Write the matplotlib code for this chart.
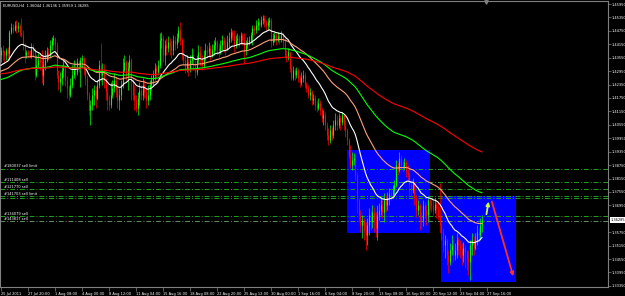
import numpy as np
import matplotlib
matplotlib.use("Agg")
import matplotlib.pyplot as plt
import matplotlib.patches as patches

# EURUSD H4, prices in pips (1/10000)
closes = [
    14389, 14381, 14367, 14389, 14376, 14470, 14492, 14479, 14501, 14488, 14497, 14465, 14457, 14412, 14367, 14381,
    14372, 14363, 14398, 14389, 14278, 14322, 14345, 14336, 14278, 14322, 14345, 14381, 14367, 14412, 14434, 14443,
    14412, 14278, 14246, 14264, 14300, 14309, 14255, 14220, 14188, 14233, 14278, 14300, 14291, 14336, 14309, 14345,
    14354, 14300, 14264, 14188, 14121, 14144, 14188, 14211, 14175, 14233, 14322, 14278, 14300, 14255, 14202, 14166,
    14144, 14188, 14220, 14255, 14211, 14166, 14188, 14233, 14300, 14336, 14278, 14309, 14345, 14255, 14188, 14166,
    14130, 14175, 14211, 14188, 14233, 14202, 14166, 14188, 14233, 14255, 14278, 14309, 14291, 14322, 14434, 14443,
    14367, 14412, 14398, 14425, 14412, 14389, 14434, 14416, 14443, 14479, 14434, 14367, 14345, 14309, 14336, 14300,
    14345, 14367, 14322, 14291, 14345, 14381, 14354, 14322, 14367, 14389, 14381, 14398, 14367, 14389, 14412, 14425,
    14398, 14381, 14412, 14434, 14416, 14389, 14425, 14443, 14470, 14452, 14412, 14434, 14443, 14425, 14457, 14434,
    14389, 14412, 14425, 14434, 14457, 14488, 14479, 14501, 14515, 14501, 14524, 14532, 14515, 14501, 14515, 14524,
    14425, 14443, 14457, 14434, 14452, 14443, 14457, 14425, 14367, 14354, 14381, 14309, 14264, 14300, 14278, 14300,
    14264, 14246, 14264, 14278, 14238, 14220, 14188, 14202, 14166, 14175, 14144, 14130, 14153, 14121, 14086, 14099,
    14054, 14010, 13987, 14032, 14010, 14054, 14077, 14054, 14086, 14068, 14099, 14054, 14032, 13987, 13920, 13875,
    13898, 13907, 13831, 13719, 13652, 13607, 13630, 13585, 13563, 13607, 13652, 13621, 13665, 13630, 13594, 13652,
    13674, 13697, 13665, 13719, 13697, 13728, 13750, 13741, 13764, 13786, 13875, 13853, 13907, 13875, 13862, 13889,
    13844, 13831, 13786, 13764, 13799, 13728, 13674, 13697, 13639, 13630, 13697, 13674, 13652, 13719, 13706, 13697,
    13674, 13701, 13683, 13652, 13607, 13576, 13518, 13540, 13473, 13442, 13495, 13518, 13473, 13495, 13540, 13518,
    13495, 13473, 13504, 13487, 13460, 13442, 13518, 13540, 13504, 13540, 13576, 13563, 13607, 13630,
]
highs = [
    14403, 14412, 14389, 14398, 14403, 14479, 14510, 14506, 14519, 14524, 14515, 14506, 14532, 14479, 14421, 14389,
    14389, 14389, 14421, 14416, 14398, 14367, 14376, 14367, 14389, 14367, 14389, 14403, 14398, 14434, 14448, 14457,
    14448, 14425, 14300, 14291, 14322, 14345, 14318, 14273, 14233, 14264, 14322, 14345, 14336, 14354, 14345, 14358,
    14367, 14358, 14309, 14278, 14202, 14166, 14220, 14233, 14229, 14255, 14345, 14421, 14331, 14327, 14264, 14220,
    14188, 14246, 14255, 14287, 14269, 14233, 14220, 14255, 14354, 14367, 14345, 14336, 14367, 14354, 14264, 14233,
    14188, 14202, 14246, 14233, 14264, 14255, 14220, 14233, 14255, 14278, 14300, 14331, 14322, 14345, 14465, 14470,
    14457, 14434, 14443, 14452, 14443, 14434, 14457, 14452, 14465, 14497, 14515, 14443, 14389, 14367, 14367, 14354,
    14367, 14398, 14389, 14345, 14367, 14412, 14407, 14367, 14389, 14421, 14412, 14425, 14412, 14416, 14434, 14448,
    14434, 14421, 14434, 14457, 14448, 14434, 14457, 14470, 14488, 14479, 14479, 14457, 14465, 14457, 14470, 14465,
    14465, 14434, 14448, 14452, 14470, 14501, 14501, 14524, 14532, 14524, 14541, 14546, 14546, 14524, 14532, 14537,
    14532, 14465, 14470, 14465, 14470, 14461, 14474, 14465, 14443, 14389, 14398, 14381, 14322, 14318, 14309, 14314,
    14309, 14278, 14291, 14300, 14291, 14246, 14233, 14220, 14211, 14193, 14188, 14166, 14175, 14166, 14130, 14121,
    14112, 14068, 14041, 14054, 14045, 14077, 14108, 14099, 14108, 14099, 14112, 14103, 14077, 14041, 13996, 13965,
    13934, 13929, 13920, 13844, 13728, 13674, 13652, 13639, 13621, 13639, 13683, 13674, 13697, 13688, 13665, 13697,
    13706, 13728, 13719, 13750, 13741, 13755, 13773, 13773, 13786, 13808, 13898, 13889, 13934, 13920, 13898, 13907,
    13898, 13875, 13844, 13808, 13817, 13795, 13741, 13719, 13706, 13665, 13719, 13710, 13697, 13728, 13728, 13719,
    13719, 13728, 13710, 13706, 13795, 13621, 13594, 13563, 13549, 13495, 13527, 13563, 13540, 13527, 13571, 13554,
    13540, 13527, 13531, 13518, 13495, 13495, 13540, 13571, 13558, 13571, 13607, 13594, 13639, 13652,
]
lows = [
    14336, 14345, 14331, 14345, 14354, 14345, 14461, 14465, 14474, 14465, 14470, 14452, 14448, 14389, 14331, 14354,
    14358, 14354, 14354, 14358, 14255, 14269, 14314, 14300, 14242, 14233, 14300, 14336, 14345, 14354, 14389, 14412,
    14389, 14264, 14211, 14202, 14233, 14269, 14229, 14175, 14166, 14179, 14220, 14264, 14255, 14278, 14291, 14224,
    14318, 14278, 14233, 14166, 14099, 14054, 14121, 14144, 14130, 14166, 14220, 14246, 14233, 14220, 14166, 14121,
    14121, 14130, 14175, 14202, 14179, 14130, 14121, 14166, 14220, 14291, 14255, 14211, 14287, 14166, 14166, 14121,
    14112, 14099, 14144, 14166, 14166, 14175, 14130, 14144, 14166, 14211, 14233, 14255, 14264, 14278, 14309, 14398,
    14336, 14322, 14367, 14381, 14367, 14354, 14367, 14389, 14398, 14425, 14412, 14345, 14322, 14287, 14291, 14273,
    14291, 14327, 14300, 14264, 14278, 14331, 14318, 14300, 14309, 14345, 14354, 14363, 14345, 14358, 14367, 14389,
    14367, 14358, 14372, 14389, 14381, 14367, 14389, 14403, 14425, 14434, 14381, 14398, 14412, 14403, 14416, 14412,
    14331, 14367, 14398, 14412, 14421, 14412, 14457, 14465, 14479, 14479, 14492, 14506, 14492, 14479, 14479, 14492,
    14403, 14412, 14425, 14412, 14425, 14416, 14425, 14398, 14354, 14336, 14345, 14291, 14255, 14255, 14255, 14264,
    14246, 14224, 14233, 14246, 14220, 14202, 14175, 14166, 14144, 14148, 14121, 14112, 14121, 14099, 14068, 14054,
    14032, 13987, 13965, 13974, 13987, 13996, 14032, 14032, 14041, 14032, 14054, 14032, 14001, 13965, 13907, 13862,
    13853, 13875, 13808, 13661, 13621, 13576, 13549, 13540, 13495, 13518, 13563, 13585, 13594, 13576, 13554, 13540,
    13630, 13652, 13639, 13621, 13665, 13674, 13697, 13719, 13728, 13741, 13777, 13831, 13844, 13853, 13844, 13853,
    13822, 13808, 13741, 13732, 13750, 13697, 13643, 13652, 13585, 13594, 13603, 13639, 13607, 13621, 13674, 13665,
    13652, 13661, 13639, 13630, 13571, 13540, 13487, 13460, 13428, 13393, 13428, 13473, 13442, 13451, 13460, 13473,
    13460, 13428, 13442, 13415, 13406, 13384, 13361, 13473, 13473, 13495, 13518, 13531, 13540, 13576,
]
first_open = 14367

# moving averages: period, value at the left edge (pips), colour
ma_periods = [21, 50, 100, 200]
ma_start = [14314, 14291, 14255, 14282]
ma_colors = ['white', '#ffa07a', '#00ff00', '#ff0000']

# order lines
order_ids = ['#180037', '#111408', '#121770', '#141703', '', '#134079', '#143817']
order_types = ['sell limit', 'sell', 'sell', 'sell limit', '', 'sell', 'sell']
order_prices = [13858, 13799, 13768, 13737, 13728, 13647, 13625]

# boxes drawn on chart: bar from, bar to, price low, price high
boxes = [(205.0, 254.2, 13571, 13942), (260.7, 305.2, 13353, 13737)]

# arrows: (bar, price) start -> end
up_arrow = [(287.4, 13643), (289.2, 13724)]
down_arrow = [(290.4, 13724), (304.0, 13366)]

tick_labels = ['25 Jul 2011', '27 Jul 20:00', '1 Aug 08:00', '4 Aug 00:00', '8 Aug 12:00',
               '11 Aug 04:00', '15 Aug 16:00', '18 Aug 08:00', '22 Aug 20:00', '25 Aug 12:00',
               '30 Aug 00:00', '1 Sep 16:00', '6 Sep 04:00', '8 Sep 20:00', '13 Sep 08:00',
               '16 Sep 00:00', '20 Sep 12:00', '23 Sep 04:00', '27 Sep 16:00']
header = 'EURUSD,H4  1.36044 1.36136 1.35959 1.36285'
last_price = 1.36285


def ema(values, period, start):
    k = 2.0 / (period + 1)
    out = []
    prev = start
    for v in values:
        prev = prev + k * (v - prev)
        out.append(prev)
    return np.array(out)


close = np.array(closes) / 1e4
high = np.array(highs) / 1e4
low = np.array(lows) / 1e4
opn = np.concatenate([[first_open / 1e4], close[:-1]])
n = len(close)
x = np.arange(n)

FONT = 'DejaVu Sans'
FS = 2.9
GRID = '#808080'
txt = dict(family=FONT, stretch='condensed', fontsize=FS)

fig = plt.figure(figsize=(6.25, 2.96), dpi=100, facecolor='black')
ax = fig.add_axes([0, 9 / 296, 608 / 625, 286 / 296])
ax.set_facecolor('black')

# pixel grid of the terminal: 1.6875 px per bar, 4.47 pips per px
ax.set_xlim(-0.593, 359.7)
ax.set_ylim(1.3330, 1.46085)

# background boxes
for b0, b1, p0, p1 in boxes:
    ax.add_patch(patches.Rectangle((b0, p0 / 1e4), b1 - b0, (p1 - p0) / 1e4,
                                   facecolor='#0000ff', edgecolor='none', zorder=1))

# order lines
for i, p in enumerate(order_prices):
    col = '#1f9f1f' if i < len(order_prices) - 1 else '#5f8f5f'
    ax.axhline(p / 1e4, color=col, lw=0.7, linestyle=(0, (5, 2, 1, 2)), zorder=2)
    if order_ids[i]:
        ax.text(2.0, p / 1e4 + 0.0002, f'{order_ids[i]} {order_types[i]}', color='white',
                ha='left', va='bottom', zorder=5, **txt)

# candles
up = close >= opn
colors = np.where(up, '#00ff00', '#ff0000')
lo = np.minimum(low, np.minimum(opn, close))
hi = np.maximum(high, np.maximum(opn, close))
ax.vlines(x, lo, hi, colors=colors, lw=0.5, zorder=3)
ax.vlines(x, np.minimum(opn, close), np.maximum(opn, close), colors=colors, lw=0.8, zorder=3)

# moving averages
for period, start, col in zip(ma_periods, ma_start, ma_colors):
    ax.plot(x, ema(closes, period, start) / 1e4, color=col, lw=0.8, zorder=4)

# trade arrows
ax.annotate('', xy=(up_arrow[1][0], up_arrow[1][1] / 1e4), xytext=(up_arrow[0][0], up_arrow[0][1] / 1e4),
            arrowprops=dict(arrowstyle='-|>', color='#c8ff32', lw=1.3, mutation_scale=5), zorder=6)
ax.annotate('', xy=(down_arrow[1][0], down_arrow[1][1] / 1e4), xytext=(down_arrow[0][0], down_arrow[0][1] / 1e4),
            arrowprops=dict(arrowstyle='-|>', color='#ff3020', lw=1.3, mutation_scale=5), zorder=6)

# shift marker
ax.plot([287.4], [1.4604], marker='v', ms=2.5, color=GRID, clip_on=False, zorder=6)

# axes
for s in ax.spines.values():
    s.set_color(GRID)
    s.set_linewidth(0.8)

ax.set_xticks(np.arange(len(tick_labels)) * 16)
ax.set_xticklabels(tick_labels)
ax.tick_params(axis='x', colors='white', length=3, width=0.5, pad=0.5, labelsize=FS, color=GRID)

yt = [1.3335 + 0.006 * k for k in range(22)]
yt = [v for v in yt if abs(v - last_price) > 0.002]
ax.yaxis.tick_right()
ax.set_yticks(yt)
ax.set_yticklabels([f'{v:.5f}' for v in yt])
ax.tick_params(axis='y', colors='white', length=2, width=0.5, pad=0.5, labelsize=FS, color=GRID)
for lbl in ax.get_xticklabels():
    lbl.set_ha('left')
for lbl in ax.get_xticklabels() + ax.get_yticklabels():
    lbl.set_family(FONT)
    lbl.set_stretch('condensed')

# current price box
ax.text(1.004, last_price, f'{last_price:.5f}', transform=ax.get_yaxis_transform(), color='black',
        ha='left', va='center', bbox=dict(boxstyle='square,pad=0.2', facecolor='white', edgecolor='none'), **txt)

fig.text(3 / 625, 1 - 6 / 296, header, color='white', ha='left', va='center', **txt)

plt.savefig('out.png', dpi=100, facecolor='black')
